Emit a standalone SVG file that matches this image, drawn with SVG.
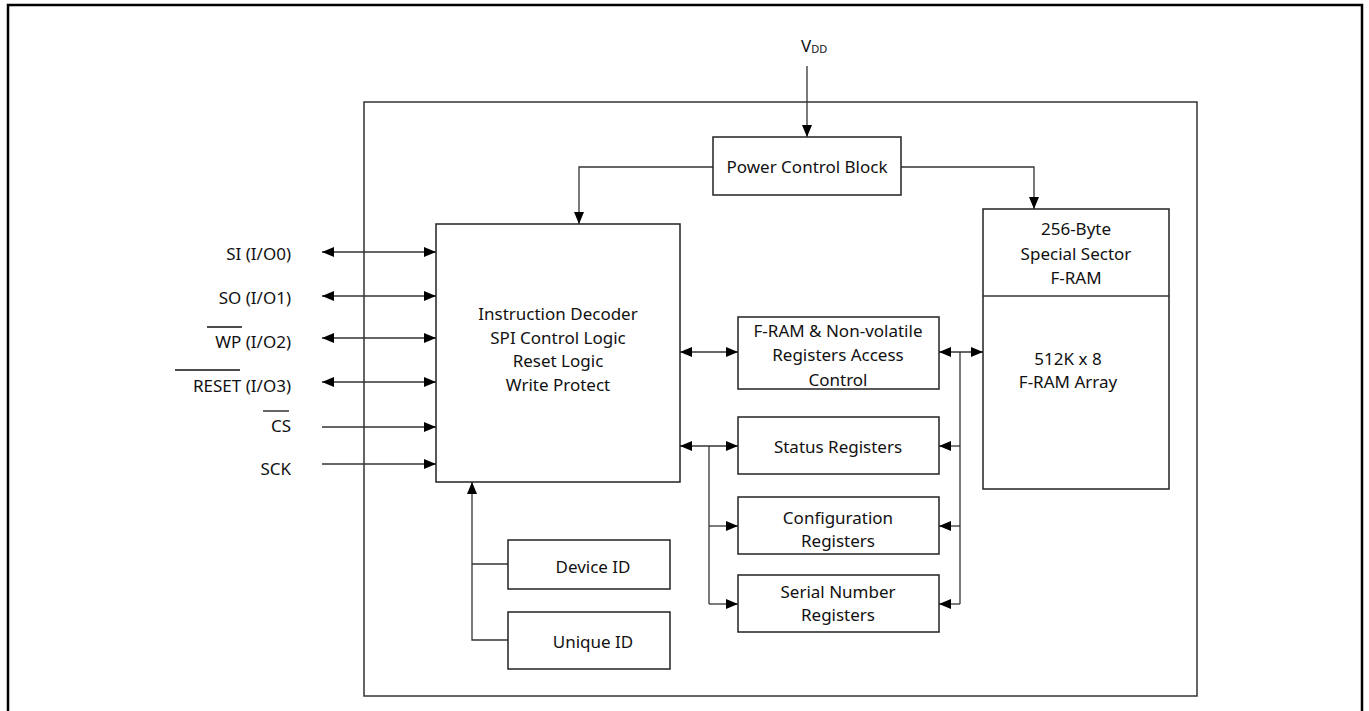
<svg xmlns="http://www.w3.org/2000/svg" width="1369" height="711" viewBox="0 0 1369 711">
  <defs>
    <marker id="arr" viewBox="0 0 10 10" refX="10" refY="5" markerWidth="12" markerHeight="10" markerUnits="userSpaceOnUse" orient="auto-start-reverse" preserveAspectRatio="none">
      <path d="M0,0 L10,5 L0,10 Z" fill="#000"/>
    </marker>
    <style>
      .frame { fill: none; stroke: #000; stroke-width: 2.5; }
      .box { fill: #fff; stroke: #222; stroke-width: 1.5; }
      .chip { fill: none; stroke: #333; stroke-width: 1.5; }
      .ln { fill: none; stroke: #333; stroke-width: 1.3; }
      .a1 { marker-end: url(#arr); }
      .a2 { marker-start: url(#arr); marker-end: url(#arr); }
      text { font-family: "Noto Sans", "DejaVu Sans", sans-serif; font-size: 17px; fill: #111; }
      .c { text-anchor: middle; }
      .r { text-anchor: end; }
      .ov { stroke: #111; stroke-width: 1.3; }
    </style>
  </defs>

  <rect x="0" y="0" width="1369" height="711" fill="#fff"/>
  <path class="frame" d="M8,720 L8,5 L1362,5 L1362,720"/>
  <rect id="chip" class="chip" x="364" y="102" width="833" height="594"/>

  <g id="connectors">
    <!-- VDD -->
    <line class="ln a1" x1="807" y1="66" x2="807" y2="137"/>
    <!-- power branches -->
    <polyline class="ln a1" points="713,167 579,167 579,224"/>
    <polyline class="ln a1" points="901,167 1034,167 1034,209"/>
    <!-- left pins -->
    <line class="ln a2" x1="322" y1="252" x2="436" y2="252"/>
    <line class="ln a2" x1="322" y1="296" x2="436" y2="296"/>
    <line class="ln a2" x1="322" y1="338" x2="436" y2="338"/>
    <line class="ln a2" x1="322" y1="382" x2="436" y2="382"/>
    <line class="ln a1" x1="322" y1="427" x2="436" y2="427"/>
    <line class="ln a1" x1="322" y1="464" x2="436" y2="464"/>
    <!-- decoder to access control -->
    <line class="ln a2" x1="680" y1="352" x2="738" y2="352"/>
    <!-- decoder to status registers -->
    <line class="ln a2" x1="680" y1="446" x2="738" y2="446"/>
    <polyline class="ln" points="709,446 709,604"/>
    <line class="ln a1" x1="709" y1="526" x2="738" y2="526"/>
    <line class="ln a1" x1="709" y1="604" x2="738" y2="604"/>
    <!-- access control to array -->
    <line class="ln a2" x1="939" y1="352" x2="983" y2="352"/>
    <polyline class="ln" points="960,352 960,604"/>
    <line class="ln a1" x1="960" y1="446" x2="939" y2="446"/>
    <line class="ln a1" x1="960" y1="526" x2="939" y2="526"/>
    <line class="ln a1" x1="960" y1="604" x2="939" y2="604"/>
    <!-- IDs to decoder -->
    <polyline class="ln a1" points="508,640 472,640 472,482"/>
    <line class="ln" x1="472" y1="564" x2="508" y2="564"/>
  </g>

  <g id="vdd">
    <text x="801" y="52">V<tspan font-size="11" dy="1">DD</tspan></text>
  </g>

  <g id="pins">
    <text class="r" x="291" y="260">SI (I/O0)</text>
    <text class="r" x="291" y="304">SO (I/O1)</text>
    <text class="r" x="291" y="348">WP (I/O2)</text>
    <line class="ov" x1="207" y1="327" x2="242" y2="327"/>
    <text class="r" x="291" y="392">RESET (I/O3)</text>
    <line class="ov" x1="175" y1="370" x2="240" y2="370"/>
    <text class="r" x="291" y="432">CS</text>
    <line class="ov" x1="263" y1="411" x2="289" y2="411"/>
    <text class="r" x="291" y="475">SCK</text>
  </g>

  <g id="power">
    <rect class="box" x="713" y="137" width="188" height="58"/>
    <text class="c" x="807" y="173">Power Control Block</text>
  </g>

  <g id="decoder">
    <rect class="box" x="436" y="224" width="244" height="258"/>
    <text class="c" x="558" y="320">Instruction Decoder</text>
    <text class="c" x="558" y="344">SPI Control Logic</text>
    <text class="c" x="558" y="367">Reset Logic</text>
    <text class="c" x="558" y="391">Write Protect</text>
  </g>

  <g id="access">
    <rect class="box" x="738" y="317" width="201" height="72"/>
    <text class="c" x="838" y="337">F-RAM &amp; Non-volatile</text>
    <text class="c" x="838" y="361">Registers Access</text>
    <text class="c" x="838" y="386">Control</text>
  </g>

  <g id="status">
    <rect class="box" x="738" y="417" width="201" height="57"/>
    <text class="c" x="838" y="453">Status Registers</text>
  </g>

  <g id="config">
    <rect class="box" x="738" y="497" width="201" height="57"/>
    <text class="c" x="838" y="524">Configuration</text>
    <text class="c" x="838" y="547">Registers</text>
  </g>

  <g id="serial">
    <rect class="box" x="738" y="575" width="201" height="57"/>
    <text class="c" x="838" y="598">Serial Number</text>
    <text class="c" x="838" y="621">Registers</text>
  </g>

  <g id="array">
    <rect class="box" x="983" y="209" width="186" height="280"/>
    <line class="ln" x1="983" y1="296" x2="1169" y2="296"/>
    <text class="c" x="1076" y="235">256-Byte</text>
    <text class="c" x="1076" y="260">Special Sector</text>
    <text class="c" x="1076" y="284">F-RAM</text>
    <text class="c" x="1068" y="365">512K x 8</text>
    <text class="c" x="1068" y="388">F-RAM Array</text>
  </g>

  <g id="deviceid">
    <rect class="box" x="508" y="540" width="162" height="49"/>
    <text class="c" x="593" y="573">Device ID</text>
  </g>

  <g id="uniqueid">
    <rect class="box" x="508" y="612" width="162" height="57"/>
    <text class="c" x="593" y="648">Unique ID</text>
  </g>
</svg>
